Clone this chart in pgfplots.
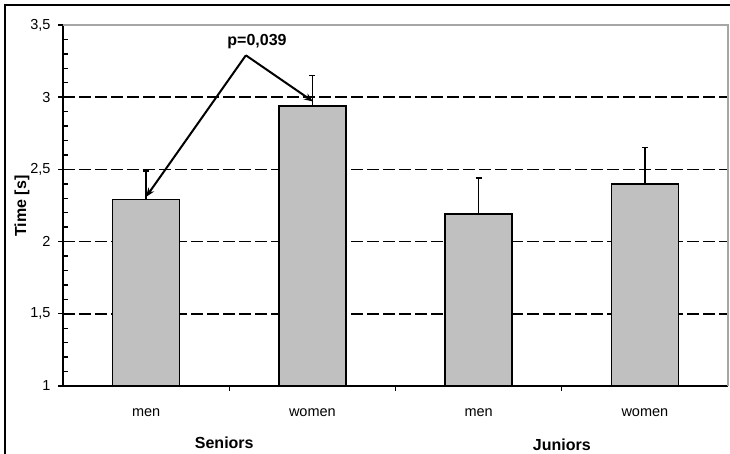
\documentclass[border=0pt]{standalone}
\usepackage{pgfplots}
\pgfplotsset{compat=1.18}
\usepackage{fontspec}
\setmainfont{Liberation Sans}
\usetikzlibrary{arrows.meta}
\definecolor{barfill}{RGB}{192,192,192}
\begin{document}
\begin{tikzpicture}[x=1pt,y=1pt]
\begin{axis}[
  at={(0,0)}, anchor=origin,
  scale only axis, width=665pt, height=361pt,
  xmin=-0.5, xmax=3.5, ymin=1, ymax=3.5,
  axis x line*=bottom, axis y line*=left,
  axis line style={line width=1.6pt},
  clip mode=individual,
  tick align=inside, major tick length=0pt, minor tick length=5pt,
  tick style={line width=1.4pt, black},
  xtick={0,1,2,3}, xticklabels={men,women,men,women},
  ytick={1,1.5,2,2.5,3,3.5}, yticklabels={1,{1,5},2,{2,5},3,{3,5}},
  minor y tick num=4,
  extra x ticks={0.5,1.5,2.5}, extra x tick labels={},
  extra x tick style={tick align=outside, major tick length=5pt},
  extra y ticks={1,1.5,2,2.5,3,3.5}, extra y tick labels={},
  extra y tick style={tick align=center, major tick length=9pt, major grid style={draw=none}},
  ymajorgrids,
  major grid style={black, line width=1.7pt, dash pattern=on 12pt off 4pt},
  ticklabel style={font=\fontsize{14.5}{16}\selectfont},
  xticklabel style={yshift=-19pt},
  yticklabel style={xshift=-9pt},
  name=ax,
]
\addplot[ybar, bar width=67pt, fill=barfill, draw=black, line width=1.5pt,
  error bars/.cd, y dir=plus, y explicit,
  error bar style={line width=1.5pt, black},
  error mark options={rotate=90, mark size=3pt, line width=1.5pt, black}]
  coordinates {
  (0,2.29) +- (0,0.20)
  (1,2.94) +- (0,0.21)
  (2,2.19) +- (0,0.25)
  (3,2.40) +- (0,0.25)
};
\draw[gray!70, line width=1.4pt] (rel axis cs:0,1) -- (rel axis cs:1,1) -- (rel axis cs:1,0);
\draw[line width=2pt, -{Stealth[length=9pt,width=7pt]}] (axis cs:0.60,3.29) -- (axis cs:0,2.31);
\draw[line width=2pt, -{Stealth[length=9pt,width=7pt]}] (axis cs:0.60,3.29) -- (axis cs:1.004,2.97);
\node[font=\bfseries\fontsize{16}{18}\selectfont] at (axis cs:0.667,3.385) {p=0,039};
\node[font=\bfseries\fontsize{16}{18}\selectfont] at (axis cs:0.47,1) [yshift=-57pt] {Seniors};
\node[font=\bfseries\fontsize{16}{18}\selectfont] at (axis cs:2.5,1) [yshift=-59pt] {Juniors};
\end{axis}
\coordinate (O) at ([xshift=-63pt,yshift=-68pt]ax.south west);
\draw[line width=2pt] ([shift={(5pt,449pt)}]O) rectangle ([shift={(780pt,-30pt)}]O);
\node[rotate=90, font=\bfseries\fontsize{16}{18}\selectfont] at ([shift={(22pt,248pt)}]O) {Time [s]};
\pgfresetboundingbox
\path[use as bounding box] (O) rectangle ([shift={(730pt,454pt)}]O);
\end{tikzpicture}
\end{document}
